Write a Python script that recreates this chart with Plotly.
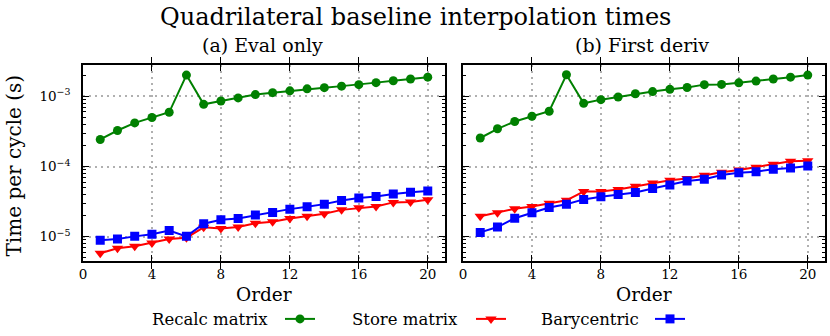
import plotly.graph_objects as go

# Polynomial order on the x axis
orders = list(range(1, 21))

# (a) Eval only  -- time per cycle (s)
eval_recalc = [2.43e-4, 3.26e-4, 4.19e-4, 4.99e-4, 5.93e-4, 2.01e-3, 7.7e-4, 8.6e-4, 9.5e-4, 1.06e-3,
               1.13e-3, 1.2e-3, 1.28e-3, 1.33e-3, 1.4e-3, 1.47e-3, 1.57e-3, 1.67e-3, 1.77e-3, 1.88e-3]
eval_store = [5.8e-6, 6.84e-6, 7.3e-6, 8.14e-6, 9.27e-6, 9.68e-6, 1.36e-5, 1.31e-5, 1.37e-5, 1.55e-5,
              1.63e-5, 1.82e-5, 1.95e-5, 2.12e-5, 2.41e-5, 2.58e-5, 2.7e-5, 3.08e-5, 3.13e-5, 3.35e-5]
eval_bary = [8.9e-6, 9.27e-6, 1.01e-5, 1.08e-5, 1.22e-5, 1.01e-5, 1.53e-5, 1.74e-5, 1.82e-5, 2.03e-5,
             2.22e-5, 2.47e-5, 2.67e-5, 2.91e-5, 3.28e-5, 3.57e-5, 3.74e-5, 4.07e-5, 4.3e-5, 4.49e-5]

# (b) First deriv
deriv_recalc = [2.55e-4, 3.45e-4, 4.38e-4, 5.21e-4, 6.14e-4, 2.03e-3, 7.96e-4, 8.98e-4, 9.8e-4, 1.09e-3,
                1.17e-3, 1.26e-3, 1.34e-3, 1.47e-3, 1.48e-3, 1.56e-3, 1.65e-3, 1.77e-3, 1.88e-3, 2.01e-3]
deriv_store = [1.95e-5, 2.2e-5, 2.5e-5, 2.7e-5, 3.0e-5, 3.3e-5, 4.4e-5, 4.4e-5, 4.7e-5, 5.24e-5,
               5.84e-5, 6.37e-5, 6.73e-5, 7.5e-5, 8.27e-5, 8.92e-5, 9.74e-5, 1.08e-4, 1.19e-4, 1.21e-4]
deriv_bary = [1.15e-5, 1.37e-5, 1.83e-5, 2.2e-5, 2.6e-5, 2.9e-5, 3.4e-5, 3.7e-5, 4.0e-5, 4.27e-5,
              4.86e-5, 5.47e-5, 6.23e-5, 6.58e-5, 7.57e-5, 8.18e-5, 8.45e-5, 9.12e-5, 9.52e-5, 1.02e-4]

x_ticks = [0, 4, 8, 12, 16, 20]
y_ticks = [1e-5, 1e-4, 1e-3]
y_ticktext = ["10<sup>\u22125</sup>", "10<sup>\u22124</sup>", "10<sup>\u22123</sup>"]
y_minor = [m * 10.0 ** e for e in (-6, -5, -4, -3) for m in range(2, 10)]

FONT = "DejaVu Serif"
series = [
    ("Recalc matrix", "#008000", "circle", eval_recalc, deriv_recalc),
    ("Store matrix", "#ff0000", "triangle-down", eval_store, deriv_store),
    ("Barycentric", "#0000ff", "square", eval_bary, deriv_bary),
]

fig = go.Figure()
legends = ["legend", "legend2", "legend3"]
for i, (name, col, sym, ev, dv) in enumerate(series):
    msize = 10 if sym == "triangle-down" else 9
    for ax, vals in (("", ev), ("2", dv)):
        fig.add_trace(go.Scatter(
            x=orders, y=vals, xaxis="x" + ax, yaxis="y" + ax,
            mode="lines+markers", name=" ",
            line=dict(color=col, width=2),
            marker=dict(color=col, symbol=sym, size=msize, line=dict(width=0)),
            showlegend=(ax == ""), legend=legends[i],
        ))

# empty traces so the overlaid minor-tick axes get drawn
for xa_id, ya_id in (("x", "y3"), ("x2", "y4")):
    fig.add_trace(go.Scatter(x=[], y=[], xaxis=xa_id, yaxis=ya_id, showlegend=False, hoverinfo="skip"))

axis_common = dict(
    showline=True, linecolor="black", linewidth=1.6, mirror="allticks",
    ticks="inside", tickcolor="black", tickwidth=1.4, ticklen=6,
    showgrid=True, gridcolor="#b0b0b0", griddash="2px,4px", gridwidth=1.6,
    zeroline=False, automargin=False, tickfont=dict(family=FONT, size=13.5, color="black"),
)
xa = dict(axis_common, range=[0, 21], tickvals=x_ticks)
ya = dict(axis_common, type="log", range=[-5.35, -2.55], tickvals=y_ticks, ticktext=y_ticktext)
# extra overlaid axes carry only the short minor ticks of the log scale
ya_minor = dict(axis_common, type="log", range=[-5.35, -2.55], tickvals=y_minor, ticklen=3.5,
                tickwidth=1, showgrid=False, showticklabels=False)

ydom = [1 - 262 / 336, 1 - 65 / 336]
fig.update_layout(
    width=830, height=336, plot_bgcolor="white", paper_bgcolor="white",
    margin=dict(l=0, r=0, t=0, b=0),
    xaxis=dict(xa, domain=[83 / 830, 445 / 830], anchor="y"),
    yaxis=dict(ya, domain=ydom, anchor="x", ticklabelstandoff=8),
    xaxis2=dict(xa, domain=[463 / 830, 825 / 830], anchor="y2"),
    yaxis2=dict(ya, domain=ydom, anchor="x2", matches="y", showticklabels=False),
    yaxis3=dict(ya_minor, domain=ydom, anchor="x", overlaying="y"),
    yaxis4=dict(ya_minor, domain=ydom, anchor="x2", overlaying="y2"),
    showlegend=True,
)

leg_x = [280, 471, 650]
for i, lg in enumerate(legends):
    fig.update_layout({lg: dict(x=leg_x[i] / 830, y=1 - 320 / 336, xanchor="left", yanchor="middle",
                                bgcolor="rgba(0,0,0,0)", font=dict(family=FONT, size=16),
                                itemwidth=30)})

ann = [
    dict(text="Quadrilateral baseline interpolation times", x=415, y=17, size=24),
    dict(text="(a) Eval only", x=262, y=45, size=19),
    dict(text="(b) First deriv", x=642, y=45, size=19),
    dict(text="Order", x=264, y=295, size=18.5),
    dict(text="Order", x=644, y=295, size=18.5),
    dict(text="Recalc matrix", x=210, y=320, size=16.5),
    dict(text="Store matrix", x=405, y=320, size=16.5),
    dict(text="Barycentric", x=590, y=320, size=16.5),
]
for a in ann:
    fig.add_annotation(text=a["text"], x=a["x"] / 830, y=1 - a["y"] / 336, xref="paper", yref="paper",
                       showarrow=False, xanchor="center", yanchor="middle",
                       font=dict(family=FONT, size=a["size"], color="black"))
fig.add_annotation(text="Time per cycle (s)", x=14 / 830, y=1 - 166 / 336, xref="paper", yref="paper",
                   showarrow=False, textangle=-90, xanchor="center", yanchor="middle",
                   font=dict(family=FONT, size=20, color="black"))

# page body has a default 8px margin; drop it so the figure sits at the window origin
fig.write_html("out.html", config={"displayModeBar": False},
               post_script="document.body.style.margin='0';")
